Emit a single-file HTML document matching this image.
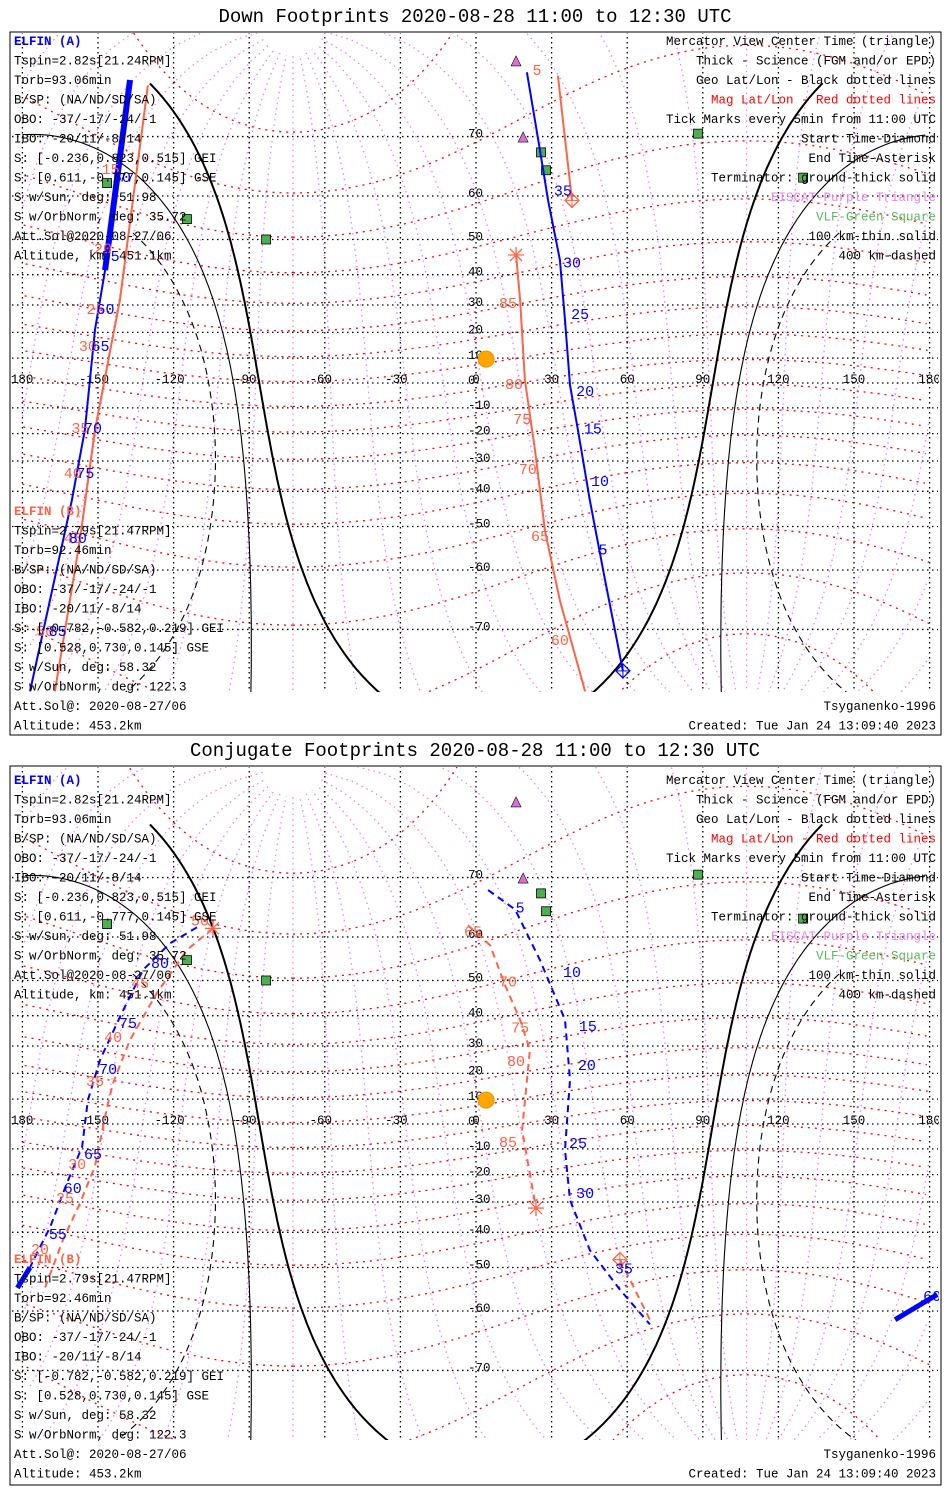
<!DOCTYPE html>
<html><head><meta charset="utf-8">
<style>
html,body{margin:0;padding:0;background:#fff;}
svg{display:block;}
text{font-family:"Liberation Mono",monospace;}
</style></head>
<body>
<svg id="chart" width="950" height="1500" viewBox="0 0 950 1500" xmlns="http://www.w3.org/2000/svg">
<rect x="0" y="0" width="950" height="1500" fill="#fff"/>
</svg>
<script>
// ---------- data ----------
const gridLats = [-70,-60,-50,-40,-30,-20,-10,0,10,20,30,40,50,60,70];
const gridLons = [-180,-150,-120,-90,-60,-30,0,30,60,90,120,150,180];
const magLats = [-80,-70,-60,-50,-40,-30,-20,-10,0,10,20,30,40,50,60,70,80];
const magLons = [0,15,30,45,60,75,90,105,120,135,150,165,180,195,210,225,240,255,270,285,300,315,330,345];
const dipolePole = [80.6,-72.6];
const subsolar = [9.6,4.0];
const termRadii = [90,100.1,109.8];
const vlfLon = [-146.4,-114.7,-83.3,25.8,27.8,88.1,129.8];
const vlfLat = [62.5,55.0,50.0,67.7,64.8,70.4,63.5];
const eiscatLon = [15.9,18.7];
const eiscatLat = [78.1,69.8];

// top panel tracks
const dA1lon = [-137.3,-147.2,-151.2,-155.2,-160.3,-167.1,-177];
const dA1lat = [76.5,41.4,21,-18.5,-42.5,-61.5,-77];
const dB1lon = [-130.2,-141.3,-151.2,-157.1,-167.1];
const dB1lat = [76,31.7,-18.5,-53,-77];
const dA2lon = [20.2,25.4,28.6,33.3,35.3,37.3,40.5,45.2,51.2,58.3];
const dA2lat = [77.2,68.0,59.1,44.4,24.6,-0.8,-19.0,-42.8,-61.9,-75.0];
const dB2lon = [32.5,38.1];
const dB2lat = [76.9,59.1];
const dB3lon = [15.9,17.5,19.4,23.4,27.4,33.3,43.3];
const dB3lat = [45.8,31.8,1.2,-26.1,-51.1,-65.6,-77];
const dLabText = ["15","20","25","30","35","40","45","50","50","55","60","65","70","75","80","85",
  "35","30","25","20","15","10","5","5","85","80","75","70","65","60"];
const dLabCol = ["r","r","r","r","r","r","r","r","b","b","b","b","b","b","b","b",
  "b","b","b","b","b","b","b","r","r","r","r","r","r","r"];
const dLabLon = [-145,-148,-151,-154,-157,-160,-160,-171,-140.5,-145,-147,-149,-152,-155,-158,-166,
  34.5,38.1,41.3,43.3,46.4,49.2,50.4,24.2,12.7,15.1,18.3,20.6,25.4,33.3];
const dLabLat = [65.2,47.9,28.9,15.2,-17.4,-33.8,-52.7,-70.1,63.8,45.8,28.9,15.2,-17.4,-33.8,-52.7,-70.1,
  61.3,43.9,27.2,-2.8,-17.6,-36.4,-55.4,77.5,31.0,0,-13.9,-32.5,-52.2,-71.3];

// bottom panel tracks
const cA1lon = [-110.7,-121.4,-132.1,-141.3,-149.2,-154.0,-156.3,-162.3,-169.0,-174.2,-177.0];
const cA1lat = [61.9,58.7,52.7,39.6,25.0,9.6,-9.2,-23.1,-38.4,-46.1,-50];
const cA1thickLon = [-177.0,-182];
const cA1thickLat = [-50,-55];
const cA3thickLon = [166.3,183];
const cA3thickLat = [-61.7,-56.5];
const cB1lon = [-104.4,-114.7,-126.6,-137.3,-144.0,-146.4,-151.2,-157.1,-163.9,-171.8];
const cB1lat = [61.7,57.3,46.7,32.1,16.3,6.8,-16.8,-30.3,-42.3,-56.1];
const cA2lon = [4.8,15.5,25.4,35.3,37.3,35.3,37.3,45.2,57.1,69.0];
const cA2lat = [68.2,65.1,55.0,38.7,17.5,-10.4,-29.3,-45.3,-55.4,-62.6];
const cB2lon = [-3.2,5.6,11.5,17.5,21.4,18.3,23.8];
const cB2lat = [62.3,58.3,48.8,38.7,28.6,-2.4,-32.1];
const cB3lon = [57.1,69.0];
const cB3lat = [-47.9,-61.7];
const cLabText = ["80","75","70","65","60","55","50","45","40","35","30","25","20",
  "5","10","15","20","25","30","35","65","70","75","80","85","60"];
const cLabCol = ["b","b","b","b","b","b","r","r","r","r","r","r","r",
  "b","b","b","b","b","b","b","r","r","r","r","r","b"];
const cLabLon = [-125.4,-138.1,-146,-152,-160,-165.9,-109.5,-133.3,-144,-151.2,-158.3,-163.1,-173,
  17.5,38.1,44.4,44.0,40.5,43.3,58.7,-1.2,12.7,17.5,15.9,12.7,181];
const cLabLat = [54.5,38.0,22,-11.6,-24.6,-40.2,63.3,49.6,33.4,17.5,-15.6,-28.2,-44.7,
  65.6,52.4,37.1,23.6,-7.2,-26.5,-50,61.3,50,36.6,25,-6.9,-56.6];

const leftA = ["Tspin=2.82s[21.24RPM]","Torb=93.06min","B/SP: (NA/ND/SD/SA)","OBO: -37/-17/-24/-1",
  "IBO: -20/11/-8/14","S: [-0.236,0.823,0.515] GEI","S: [0.611,-0.777,0.145] GSE","S w/Sun, deg: 51.98",
  "S w/OrbNorm, deg: 35.72","Att.Sol@2020-08-27/06","Altitude, km: 451.1km"];
const leftB = ["Tspin=2.79s[21.47RPM]","Torb=92.46min","B/SP: (NA/ND/SD/SA)","OBO: -37/-17/-24/-1",
  "IBO: -20/11/-8/14","S: [-0.782,-0.582,0.219] GEI","S: [0.528,0.730,0.145] GSE","S w/Sun, deg: 58.32",
  "S w/OrbNorm, deg: 122.3","Att.Sol@: 2020-08-27/06","Altitude: 453.2km"];
const rightTxt = ["Mercator View Center Time (triangle)","Thick - Science (FGM and/or EPD)","Geo Lat/Lon - Black dotted lines",
  "Mag Lat/Lon - Red dotted lines","Tick Marks every 5min from 11:00 UTC","Start Time-Diamond","End Time-Asterisk",
  "Terminator: ground-thick solid","EISCAT-Purple Triangle","VLF-Green Square","100 km-thin solid","400 km-dashed"];
const rightCol = ["#000","#000","#000","#f00","#000","#000","#000","#000","#ee82ee","#5cb85c","#000","#000"];

// ---------- helpers ----------
const NS = "http://www.w3.org/2000/svg";
const svg = document.getElementById('chart');
const RAD = Math.PI/180;
function mk(tag, attrs, parent){ const e=document.createElementNS(NS,tag); for(const k in attrs) e.setAttribute(k,attrs[k]); (parent||svg).appendChild(e); return e; }
function makeProj(eq){ return { x: lon=>476+lon*2.52, y: lat=>eq-142*Math.log(Math.tan((45+lat/2)*RAD)) }; }
function magToGeo(mlat,mlon){
  const th=(90-dipolePole[0])*RAD, ph=dipolePole[1]*RAD;
  let x=Math.cos(mlat*RAD)*Math.cos(mlon*RAD), y=Math.cos(mlat*RAD)*Math.sin(mlon*RAD), z=Math.sin(mlat*RAD);
  const x1=x*Math.cos(th)+z*Math.sin(th), z1=-x*Math.sin(th)+z*Math.cos(th);
  const x2=x1*Math.cos(ph)-y*Math.sin(ph), y2=x1*Math.sin(ph)+y*Math.cos(ph);
  return [Math.asin(Math.max(-1,Math.min(1,z1)))/RAD, Math.atan2(y2,x2)/RAD];
}
function polyPieces(pts){
  const pieces=[]; let cur=[];
  for(let i=0;i<pts.length;i++){
    const p=pts[i];
    if(p===null){ if(cur.length>1) pieces.push(cur); cur=[]; continue; }
    if(cur.length && Math.abs(p[0]-cur[cur.length-1][0])>300){ if(cur.length>1) pieces.push(cur); cur=[]; }
    cur.push(p);
  }
  if(cur.length>1) pieces.push(cur);
  return pieces;
}
function ptsStr(a){ return a.map(p=>p[0].toFixed(1)+','+p[1].toFixed(1)).join(' '); }

function drawPanel(P){
  const g = mk('g',{});
  
  
  const pr = makeProj(P.eq);
  const clipId = 'clip'+P.name;
  const defs = mk('defs',{},g);
  const cp = mk('clipPath',{id:clipId},defs);
  mk('rect',{x:11,y:P.top+1,width:928,height:P.mapBot-P.top-1},cp);
  const fr = mk('rect',{x:10,y:P.top,width:931,height:P.bot-P.top,fill:'none',stroke:'#000','stroke-width':1},g);
  
  
  const t = mk('text',{x:475,y:P.top-10,'text-anchor':'middle','font-size':'19px',fill:'#000'},g);
  t.textContent = P.title;
  
  

  const m = mk('g',{'clip-path':'url(#'+clipId+')'},g);
  
  
  magLons.forEach(ml=>{
    const pts=[]; for(let a=-88;a<=88;a+=2){ const q=magToGeo(a,ml); pts.push([pr.x(q[1]),pr.y(Math.max(-85,Math.min(85,q[0])))]); }
    polyPieces(pts).forEach(pc=>{ const l=mk('polyline',{points:ptsStr(pc),fill:'none',stroke:'#ee82ee','stroke-width':1.3,'stroke-dasharray':'1.5,4'},m);
        });
  });
  magLats.forEach(ml=>{
    const pts=[]; for(let a=0;a<=360;a+=2){ const q=magToGeo(ml,a); pts.push(Math.abs(q[0])>85?null:[pr.x(q[1]),pr.y(q[0])]); }
    polyPieces(pts).forEach(pc=>{ const l=mk('polyline',{points:ptsStr(pc),fill:'none',stroke:'#f00','stroke-width':1.3,'stroke-dasharray':'2,5'},m);
        });
  });
  gridLats.forEach(la=>{ const y=pr.y(la); const l=mk('line',{x1:12,x2:938,y1:y,y2:y,stroke:'#000','stroke-width':1.3,'stroke-dasharray':'1.5,3.5'},m);
      });
  gridLons.forEach(lo=>{ const x=pr.x(lo); const l=mk('line',{x1:x,x2:x,y1:P.top,y2:P.mapBot,stroke:'#000','stroke-width':1.3,'stroke-dasharray':'1.5,3.5'},m);
      });
  termRadii.forEach((r,i)=>{
    const d=subsolar[0]*RAD, pts=[];
    for(let a=0;a<=360;a+=1){
      const A=a*RAD, R=r*RAD;
      const sl=Math.sin(d)*Math.cos(R)+Math.cos(d)*Math.sin(R)*Math.cos(A);
      const lat=Math.asin(sl)/RAD;
      let lon=subsolar[1]+Math.atan2(Math.sin(A)*Math.sin(R)*Math.cos(d),Math.cos(R)-Math.sin(d)*sl)/RAD;
      lon=((lon+540)%360)-180;
      if(lat>76.5 || lat<-84 || (i===2 && lat>52)) pts.push(null); else pts.push([pr.x(lon),pr.y(lat)]);
    }
    polyPieces(pts).forEach(pc=>{ const l=mk('polyline',{points:ptsStr(pc),fill:'none',stroke:'#000','stroke-width':i===0?2:1.1,'stroke-dasharray':i===2?'7,5':'none'},m);
        });
  });
  gridLats.forEach(la=>{ const tx=mk('text',{x:468,y:pr.y(la)+1,'font-size':'12.5px',fill:'#000'},m); tx.textContent=String(la);
      });
  gridLons.forEach(lo=>{ const tx=mk('text',{x:pr.x(lo)+(lo<0?-4:0),y:P.eq,'text-anchor':'middle','font-size':'12.5px',fill:'#000'},m); tx.textContent=String(lo);
      });
  vlfLon.forEach((lo,i)=>{ const r=mk('rect',{x:pr.x(lo)-4.5,y:pr.y(vlfLat[i])-4.5,width:9,height:9,fill:'#4caf50',stroke:'#000','stroke-width':0.8},m);
      });
  eiscatLon.forEach((lo,i)=>{ const x=pr.x(lo), y=pr.y(eiscatLat[i]);
    const p=mk('polygon',{points:`${x},${y-6} ${x-5},${y+4} ${x+5},${y+4}`,fill:'#da70d6',stroke:'#000','stroke-width':0.6},m);
      });
  const sx=pr.x(subsolar[1]), sy=pr.y(subsolar[0]);
  const sun=mk('circle',{cx:sx,cy:sy,r:8,fill:'#ffa500',stroke:'#e69500'},m);
   
  P.tracks.forEach(tr=>{
    const pts=tr.lon.map((lo,i)=>[pr.x(lo),pr.y(tr.lat[i])]);
    polyPieces(pts).forEach(pc=>{ const l=mk('polyline',{points:ptsStr(pc),fill:'none',stroke:tr.col,'stroke-width':tr.w,'stroke-dasharray':tr.dash||'none'},m);
        });
  });
  P.marks.forEach(mm=>{ const x=pr.x(mm.lon), y=pr.y(mm.lat);
    if(mm.type==='diamond'){ const p=mk('polygon',{points:`${x},${y-7} ${x+7},${y} ${x},${y+7} ${x-7},${y}`,fill:'none',stroke:mm.col,'stroke-width':1.3},m);
       
      mk('line',{x1:x-7,x2:x+7,y1:y,y2:y,stroke:mm.col},m); mk('line',{x1:x,x2:x,y1:y-7,y2:y+7,stroke:mm.col},m);
    } else { const a=mk('g',{stroke:mm.col,'stroke-width':1.3},m);
       
      [[-8,0,8,0],[0,-8,0,8],[-6,-6,6,6],[-6,6,6,-6]].forEach(s=>mk('line',{x1:x+s[0],y1:y+s[1],x2:x+s[2],y2:y+s[3]},a)); }
  });
  P.labText.forEach((tx,i)=>{ const x=pr.x(P.labLon[i]), y=pr.y(P.labLat[i]); const col=P.labCol[i]==='b'?'#0000ff':'#ff6347';
    const e=mk('text',{x:x,y:y+6,'text-anchor':'middle','font-size':'15px',fill:col},m); e.textContent=tx;
      });
  const ta=mk('text',{x:14,y:P.aY+5,'font-size':'12.5px','font-weight':'bold',fill:'#0000ff'},g); ta.textContent='ELFIN (A)';
   
  leftA.forEach((s,i)=>{ const e=mk('text',{x:14,y:P.aY+5+(i+1)*19.5,'font-size':'12.5px',fill:'#000'},g); e.textContent=s;
      });
  const tb=mk('text',{x:14,y:P.bY+5,'font-size':'12.5px','font-weight':'bold',fill:'#ff6347'},g); tb.textContent='ELFIN (B)';
   
  leftB.forEach((s,i)=>{ const e=mk('text',{x:14,y:P.bY+5+(i+1)*19.5,'font-size':'12.5px',fill:'#000'},g); e.textContent=s;
      });
  rightTxt.forEach((s,i)=>{ const e=mk('text',{x:936,y:P.aY+5+i*19.5,'text-anchor':'end','font-size':'12.5px',fill:rightCol[i]},g); e.textContent=s;
      });
  const ts=mk('text',{x:936,y:P.bY+5+10*19.5,'text-anchor':'end','font-size':'12.5px',fill:'#000'},g); ts.textContent='Tsyganenko-1996';
   
  const cr=mk('text',{x:936,y:P.bY+5+11*19.5,'text-anchor':'end','font-size':'12.5px',fill:'#000'},g); cr.textContent='Created: Tue Jan 24 13:09:40 2023';
   
}

drawPanel({name:'down-footprints-panel',title:'Down Footprints 2020-08-28 11:00 to 12:30 UTC',top:32,bot:735,mapBot:692,eq:383,aY:40,bY:510,
  tracks:[
    {name:'elfin-a-track',lon:dA1lon,lat:dA1lat,col:'#0000ff',w:2},
    {name:'elfin-a-science',lon:dA1lon.slice(0,2),lat:dA1lat.slice(0,2),col:'#0000ff',w:6},
    {name:'elfin-b-track',lon:dB1lon,lat:dB1lat,col:'#ff6347',w:2},
    {name:'elfin-a-track',lon:dA2lon,lat:dA2lat,col:'#0000ff',w:2},
    {name:'elfin-b-track',lon:dB2lon,lat:dB2lat,col:'#ff6347',w:2},
    {name:'elfin-b-track',lon:dB3lon,lat:dB3lat,col:'#ff6347',w:2}],
  marks:[{type:'diamond',lon:dA2lon[9],lat:dA2lat[9],col:'#0000ff'},{type:'diamond',lon:dB2lon[1],lat:dB2lat[1],col:'#ff6347'},
         {type:'ast',lon:dB3lon[0],lat:dB3lat[0],col:'#ff6347'}],
  labText:dLabText,labCol:dLabCol,labLon:dLabLon,labLat:dLabLat});

drawPanel({name:'conjugate-footprints-panel',title:'Conjugate Footprints 2020-08-28 11:00 to 12:30 UTC',top:766,bot:1485,mapBot:1440,eq:1124,aY:779,bY:1258,
  tracks:[
    {name:'elfin-a-track',lon:cA1lon,lat:cA1lat,col:'#0000ff',w:2,dash:'7,5'},
    {name:'elfin-a-science',lon:cA1thickLon,lat:cA1thickLat,col:'#0000ff',w:5},
    {name:'elfin-a-science',lon:cA3thickLon,lat:cA3thickLat,col:'#0000ff',w:5},
    {name:'elfin-b-track',lon:cB1lon,lat:cB1lat,col:'#ff6347',w:2,dash:'7,5'},
    {name:'elfin-a-track',lon:cA2lon,lat:cA2lat,col:'#0000ff',w:2,dash:'7,5'},
    {name:'elfin-b-track',lon:cB2lon,lat:cB2lat,col:'#ff6347',w:2,dash:'7,5'},
    {name:'elfin-b-track',lon:cB3lon,lat:cB3lat,col:'#ff6347',w:2,dash:'7,5'}],
  marks:[{type:'ast',lon:cB1lon[0],lat:cB1lat[0],col:'#ff6347'},{type:'ast',lon:cB2lon[6],lat:cB2lat[6],col:'#ff6347'},
         {type:'diamond',lon:cB3lon[0],lat:cB3lat[0],col:'#ff6347'}],
  labText:cLabText,labCol:cLabCol,labLon:cLabLon,labLat:cLabLat});
</script>
</body></html>
